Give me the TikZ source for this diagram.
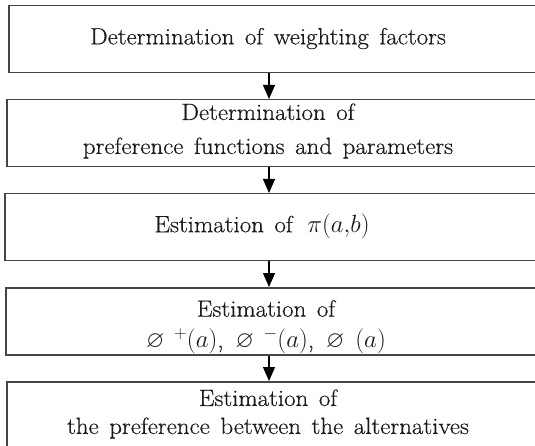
\documentclass[tikz,border=0pt]{standalone}
\usepackage{amssymb}
\usepackage{fontspec}
\setmainfont{Latin Modern Roman}[UprightFeatures={FakeBold=0.45,FakeStretch=1.06}]
\usetikzlibrary{arrows.meta}
\definecolor{boxline}{HTML}{454545}
\definecolor{ink}{HTML}{1A1A1A}
\tikzset{
  stepbox/.style={draw=boxline, line width=1.5pt, rectangle, anchor=north west,
    minimum height=67pt, minimum width=560pt, inner sep=0pt},
  txt/.style={font={\fontsize{23.5pt}{30pt}\selectfont\spaceskip=0.45em\relax},
    align=center, text=ink, inner sep=0pt},
  arr/.style={draw=black, line width=1.2pt, -{Triangle[length=14pt,width=12pt]}}
}
\begin{document}
\begin{tikzpicture}[x=1pt,y=1pt]
\useasboundingbox (0,0) rectangle (535,-446);
\clip (0,0) rectangle (535,-446);
\fill[white] (0,0) rectangle (535,-446);
% boxes
\node[stepbox] (b1) at (8,-5) {};
\node[stepbox] (b2) at (6,-99) {};
\node[stepbox] (b3) at (4,-193) {};
\node[stepbox] (b4) at (5,-287) {};
\node[stepbox] (b5) at (6,-381) {};
% texts
\node[txt] (t1) at (268,-38.5) {Determination of weighting factors};
\node[txt] (t2) at (268,-131) {Determination of\\[4pt]preference functions and parameters};
\node[txt] (t3) at (262,-226) {Estimation of \,$\pi(a{,}b)$};
\node[txt] (t4) at (266,-327) {Estimation of\\[1pt]$\varnothing^{\;\;+}(a)$,\hspace{12pt}$\varnothing^{\;\;-}(a)$,\hspace{12pt}$\varnothing\;\,(a)$};
\node[txt] (t5) at (268,-414) {Estimation of\\[-2pt]the preference between the alternatives};
% arrows
\coordinate (ax) at (269,0);
\draw[arr] (b1.south -| ax) -- (b2.north -| ax);
\draw[arr] (b2.south -| ax) -- (b3.north -| ax);
\draw[arr] (b3.south -| ax) -- (b4.north -| ax);
\draw[arr] (b4.south -| ax) -- (b5.north -| ax);
\end{tikzpicture}
\end{document}
